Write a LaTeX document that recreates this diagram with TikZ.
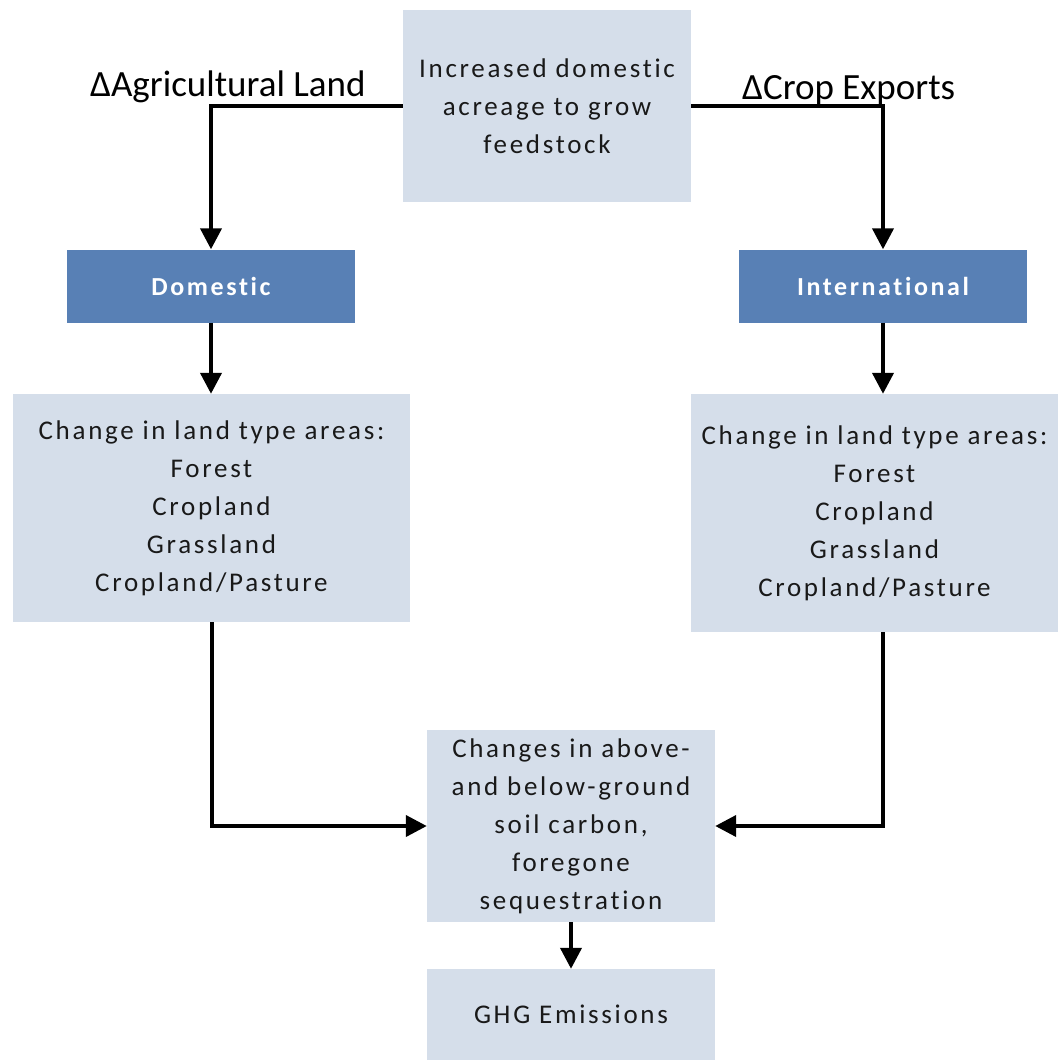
\documentclass[tikz,border=0pt]{standalone}
\usepackage{fontspec}
\setmainfont{Carlito}
\newfontfamily\boxfont[LetterSpace=10,Ligatures=NoCommon]{Carlito}
\newfontfamily\headfont[LetterSpace=10,Ligatures=NoCommon]{Carlito}
\usetikzlibrary{arrows.meta,positioning}
\definecolor{lightbox}{HTML}{D5DEEA}
\definecolor{darkbox}{HTML}{5880B5}
\tikzset{
  lbox/.style={rectangle, fill=lightbox, inner sep=0pt, align=center, font=\boxfont\fontsize{27}{38}\selectfont, text=black!90},
  dbox/.style={rectangle, fill=darkbox, inner sep=0pt, align=center, font=\headfont\bfseries\fontsize{26}{30}\selectfont, text=white},
  conn/.style={line width=4pt, -{Triangle[length=21pt,width=21pt]}},
  lbl/.style={font=\fontsize{37}{42}\selectfont, inner sep=0pt, anchor=base west}
}
\begin{document}
\begin{tikzpicture}[x=1pt,y=-1pt]
\useasboundingbox (0,0) rectangle (1059,1061);
\node[lbox, minimum width=288pt, minimum height=192pt] (top) at (547,106) {Increased domestic\\acreage to grow\\feedstock};
\node[dbox, minimum width=288pt, minimum height=73pt] (dom) at (211,286) {Domestic};
\node[dbox, minimum width=288pt, minimum height=73pt] (intl) at (883,286) {International};
\node[lbox, minimum width=397pt, minimum height=228pt] (lchg) at (211.5,508) {Change in land type areas:\\Forest\\Cropland\\Grassland\\Cropland/Pasture};
\node[lbox, minimum width=367pt, minimum height=238pt] (rchg) at (874.5,513) {Change in land type areas:\\Forest\\Cropland\\Grassland\\Cropland/Pasture};
\node[lbox, minimum width=288pt, minimum height=192pt] (mid) at (571,826) {Changes in above-\\and below-ground\\soil carbon,\\foregone\\sequestration};
\node[lbox, minimum width=288pt, minimum height=91pt] (ghg) at (571,1014.5) {GHG Emissions};
\node[lbl] (la) at (90,96) {ΔAgricultural Land};
\node[lbl] (lb) at (742,99) {ΔCrop Exports};
\draw[conn] (top.west) -| (dom.north);
\draw[conn] (top.east) -| (intl.north);
\draw[conn] (dom.south) -- (dom.south |- lchg.north);
\draw[conn] (intl.south) -- (intl.south |- rchg.north);
\draw[conn] (lchg.south) |- (mid.west);
\draw[conn] (rchg.south -| intl.south) |- (mid.east);
\draw[conn] (mid.south) -- (ghg.north);
\end{tikzpicture}
\end{document}
